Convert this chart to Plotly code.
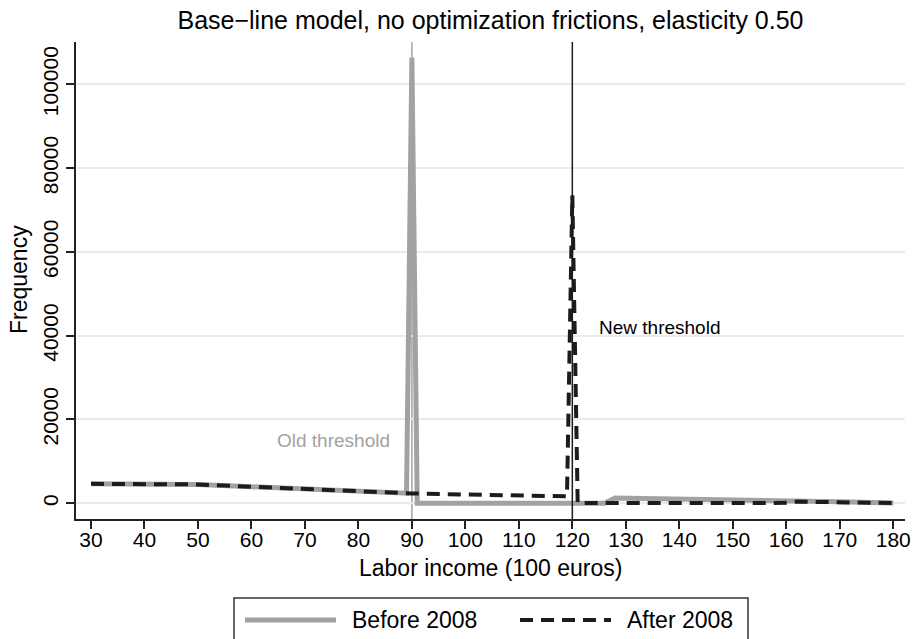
import plotly.graph_objects as go

# Data
x_before = [30, 40, 50, 60, 70, 80, 89, 90, 91, 100, 110, 120, 126, 128, 140, 150, 160, 162, 170, 180]
y_before = [4650, 4650, 4500, 3950, 3350, 2750, 2400, 106400, 0, 0, 0, 0, 0, 1250, 1050, 850, 600, 400, 350, 50]

x_after = [30, 40, 50, 60, 70, 80, 89, 90, 100, 110, 119, 120, 121, 130, 140, 150, 160, 162, 170, 180]
y_after = [4650, 4650, 4500, 3950, 3350, 2750, 2400, 2350, 2100, 1900, 1650, 73500, 80, 80, 80, 80, 100, 400, 350, 50]

x_ticks = list(range(30, 181, 10))
y_ticks = [0, 20000, 40000, 60000, 80000, 100000]
old_threshold = 90
new_threshold = 120

FONT = "Liberation Sans, Arial, sans-serif"
GREY = "#A2A2A2"
DARK = "#1C1C1C"

fig = go.Figure()
fig.add_trace(go.Scatter(x=x_before, y=y_before, mode="lines",
                         line=dict(color=GREY, width=5), name="Before 2008",
                         showlegend=False))
fig.add_trace(go.Scatter(x=x_after, y=y_after, mode="lines",
                         line=dict(color=DARK, width=4, dash="13px,8px"), name="After 2008",
                         showlegend=False))

# threshold lines
fig.add_shape(type="line", xref="x", yref="paper", x0=old_threshold, x1=old_threshold, y0=0, y1=1,
              line=dict(color=GREY, width=1.5), layer="below")
fig.add_shape(type="line", xref="x", yref="paper", x0=new_threshold, x1=new_threshold, y0=0, y1=1,
              line=dict(color=DARK, width=1.5))

fig.add_annotation(x=86.2, y=15100, xref="x", yref="y", text="Old threshold", showarrow=False,
                   xanchor="right", yanchor="middle", font=dict(family=FONT, size=19, color=GREY))
fig.add_annotation(x=124.6, y=42000, xref="x", yref="y", text="New threshold", showarrow=False,
                   xanchor="left", yanchor="middle", font=dict(family=FONT, size=19, color="#000"))

# pixel -> paper helpers
W, H = 915, 639
ml, mr, mt, mb = 76, 10, 42, 120
pw, ph = W - ml - mr, H - mt - mb
def px(x):
    return (x - ml) / pw
def py(y):
    return (H - mb - y) / ph

# axis titles
fig.add_annotation(xref="paper", yref="paper", x=0.5, y=py(568), text="Labor income (100 euros)",
                   showarrow=False, xanchor="center", yanchor="middle",
                   font=dict(family=FONT, size=23, color="#000"))
fig.add_annotation(xref="paper", yref="paper", x=px(19), y=py(280), text="Frequency", textangle=-90,
                   showarrow=False, xanchor="center", yanchor="middle",
                   font=dict(family=FONT, size=23, color="#000"))

# manual legend
fig.add_shape(type="rect", xref="paper", yref="paper", x0=px(234), x1=px(748), y0=py(640), y1=py(598),
              line=dict(color="#333", width=1.5), fillcolor="white")
fig.add_shape(type="line", xref="paper", yref="paper", x0=px(245), x1=px(336), y0=py(620), y1=py(620),
              line=dict(color=GREY, width=5))
fig.add_shape(type="line", xref="paper", yref="paper", x0=px(520), x1=px(611), y0=py(620), y1=py(620),
              line=dict(color=DARK, width=4, dash="13px,8px"))
fig.add_annotation(xref="paper", yref="paper", x=px(350), y=py(620), text="Before 2008", showarrow=False,
                   xanchor="left", yanchor="middle", font=dict(family=FONT, size=23, color="#000"))
fig.add_annotation(xref="paper", yref="paper", x=px(625), y=py(620), text="After 2008", showarrow=False,
                   xanchor="left", yanchor="middle", font=dict(family=FONT, size=23, color="#000"))

fig.update_layout(
    width=W, height=H,
    margin=dict(l=ml, r=mr, t=mt, b=mb),
    paper_bgcolor="white", plot_bgcolor="white",
    font=dict(family=FONT, size=21, color="#000"),
    title=dict(text="Base\u2212line model, no optimization frictions, elasticity 0.50",
               x=(ml + pw / 2) / W, xanchor="center", y=1 - 20 / H, yanchor="middle",
               font=dict(family=FONT, size=25, color="#000")),
    xaxis=dict(range=[27.2, 182.2], tickvals=x_ticks, ticks="outside", ticklen=8, tickwidth=1.5,
               tickcolor="#222", showline=True, linecolor="#222", linewidth=1.5, showgrid=False,
               zeroline=False, tickfont=dict(size=21), automargin=False, ticklabelstandoff=-7),
    yaxis=dict(range=[-3750, 110100], tickvals=y_ticks, ticktext=[str(v) for v in y_ticks],
               tickangle=-90, ticks="outside", ticklen=8, tickwidth=1.5, tickcolor="#222",
               showline=True, linecolor="#222", linewidth=1.5, showgrid=True, gridcolor="#EAEAEA",
               gridwidth=1.5, zeroline=False, tickfont=dict(size=21), automargin=False),
)

fig.write_html("out.html")
